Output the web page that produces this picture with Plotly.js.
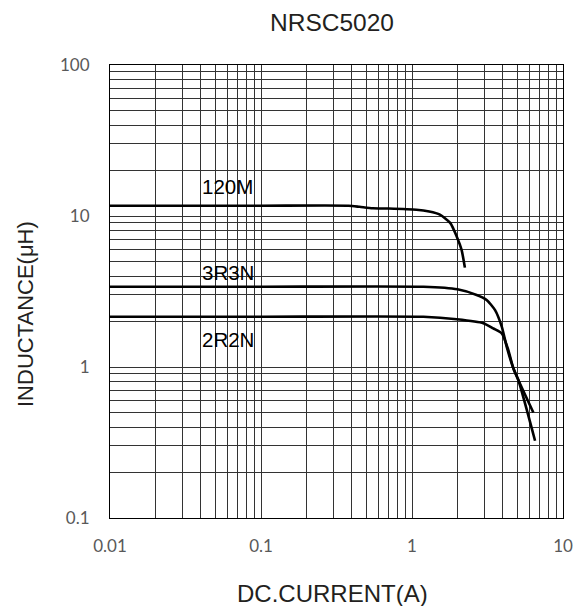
<!DOCTYPE html>
<html>
<head>
<meta charset="utf-8">
<script src="https://cdn.plot.ly/plotly-3.0.1.min.js"></script>
<style>html,body{margin:0;padding:0;background:#fff;}#chart{width:576px;height:606px;}</style>
</head>
<body>
<div id="chart"></div>
<script>
// Data
const x120M = [0.01, 0.1, 0.38, 0.45, 0.55, 0.7, 1.07, 1.3, 1.53, 1.79, 1.98, 2.13, 2.24];
const y120M = [11.7, 11.7, 11.7, 11.5, 11.25, 11.2, 11.0, 10.7, 10.2, 9.0, 7.3, 5.96, 4.55];
const x3R3N = [0.01, 0.1, 1.19, 2.0, 2.68, 3.12, 3.55, 3.93, 4.24, 4.69, 5.06, 6.53];
const y3R3N = [3.4, 3.4, 3.4, 3.27, 3.0, 2.78, 2.38, 1.85, 1.36, 0.98, 0.82, 0.325];
const x2R2N = [0.01, 0.1, 1.19, 1.98, 2.97, 3.45, 3.93, 4.34, 4.69, 5.06, 6.36];
const y2R2N = [2.15, 2.15, 2.15, 2.07, 1.95, 1.80, 1.67, 1.30, 0.98, 0.82, 0.5];
const seriesNames = ["120M", "3R3N", "2R2N"];
const labelX = [0.0395, 0.0395, 0.0395];
const labelY = [15.8, 4.23, 1.52];
const chartTitle = "NRSC5020";
const xTitle = "DC.CURRENT(A)";
const yTitle = "INDUCTANCE(μH)";

const xTickVals = [], xTickText = [];
[0.01, 0.1, 1].forEach(d => { for (let k = 1; k <= 9; k++) { xTickVals.push(d * k); xTickText.push(k === 1 ? String(d) : ""); } });
xTickVals.push(10); xTickText.push("10");
const yTickVals = [], yTickText = [];
[0.1, 1, 10].forEach(d => { for (let k = 1; k <= 9; k++) { yTickVals.push(d * k); yTickText.push(k === 1 ? String(d) : ""); } });
yTickVals.push(100); yTickText.push("100");

const FONT = 'Liberation Sans, Arial, sans-serif';
const lineStyle = {color: '#000', width: 2.6, shape: 'spline', smoothing: 0.6};
const traces = [
  {x: x120M, y: y120M, name: seriesNames[0], mode: 'lines', line: lineStyle},
  {x: x3R3N, y: y3R3N, name: seriesNames[1], mode: 'lines', line: lineStyle},
  {x: x2R2N, y: y2R2N, name: seriesNames[2], mode: 'lines', line: lineStyle}
];

const annotations = seriesNames.map((n, i) => ({
  x: Math.log10(labelX[i]), y: Math.log10(labelY[i]), xref: 'x', yref: 'y',
  text: n, showarrow: false, xanchor: 'left', yanchor: 'middle',
  font: {family: FONT, size: 20.5, color: '#000'}
}));
annotations.push({
  text: xTitle, xref: 'paper', yref: 'paper', x: (332 - 110) / 453, y: (518 - 593) / 453,
  xanchor: 'center', yanchor: 'middle', showarrow: false,
  font: {family: FONT, size: 24, color: '#231f20'}
});
annotations.push({
  text: yTitle, xref: 'paper', yref: 'paper', x: (25 - 110) / 453, y: (518 - 314) / 453,
  xanchor: 'center', yanchor: 'middle', showarrow: false, textangle: -90,
  font: {family: FONT, size: 22, color: '#231f20'}
});

const axisCommon = {
  type: 'log', showgrid: true, gridcolor: '#333', gridwidth: 1,
  showline: true, linecolor: '#000', linewidth: 1, mirror: true,
  ticks: '', zeroline: false, tickmode: 'array',
  tickfont: {family: 'Lato, Liberation Sans, sans-serif', size: 17, color: '#595959'}
};

const layout = {
  width: 576, height: 606,
  margin: {l: 110, r: 13, t: 65, b: 88},
  paper_bgcolor: '#fff', plot_bgcolor: '#fff',
  showlegend: false,
  title: {text: chartTitle, x: 332/576, xanchor: 'center', xref: 'container', y: 1 - 22/606, yanchor: 'middle', yref: 'container',
          font: {family: FONT, size: 24.5, color: '#231f20'}},
  xaxis: Object.assign({}, axisCommon, {
    range: [-2, 1], tickvals: xTickVals, ticktext: xTickText, ticklabelstandoff: 13
  }),
  yaxis: Object.assign({}, axisCommon, {
    range: [-1, 2], tickvals: yTickVals, ticktext: yTickText, ticklabelstandoff: 16
  }),
  annotations: annotations
};

Plotly.newPlot('chart', traces, layout, {displayModeBar: false, staticPlot: true});
</script>
</body>
</html>
